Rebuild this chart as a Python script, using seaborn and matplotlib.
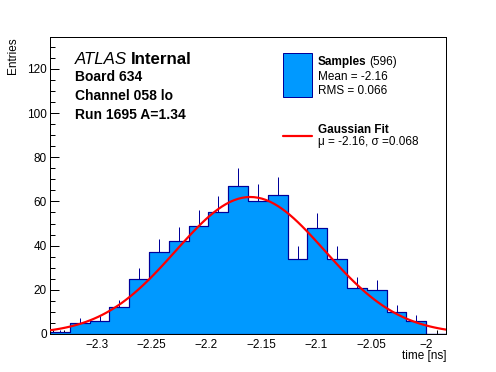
import numpy as np
import pandas as pd
import matplotlib
matplotlib.use("Agg")
import matplotlib.pyplot as plt
import seaborn as sns
from matplotlib.patches import Rectangle
from matplotlib.lines import Line2D
from matplotlib.ticker import MultipleLocator

# ---------------- data ----------------
hist_xmin = -2.3425
hist_xmax = -1.9817
n_bins = 20
counts = [1, 5, 6, 12, 25, 37, 42, 49, 55, 67, 60, 63, 34, 48, 34, 21, 20, 10, 6, 0]
fit_mu = -2.16
fit_sigma = 0.068
fit_amp = 62.0
x_ticks = [-2.3, -2.25, -2.2, -2.15, -2.1, -2.05, -2.0]
x_tick_labels = ["\u22122.3", "\u22122.25", "\u22122.2", "\u22122.15", "\u22122.1", "\u22122.05", "\u22122"]
y_ticks = [0, 20, 40, 60, 80, 100, 120]
y_max = 134.4

edges = np.linspace(hist_xmin, hist_xmax, n_bins + 1)
centers = 0.5 * (edges[:-1] + edges[1:])
counts_arr = np.array(counts, dtype=float)
df = pd.DataFrame({"time": centers, "n": counts_arr})

fx = np.linspace(hist_xmin, hist_xmax, 100)
fy = fit_amp * np.exp(-0.5 * ((fx - fit_mu) / fit_sigma) ** 2)
fit_df = pd.DataFrame({"time": fx, "fit": fy})

# ---------------- style ----------------
sns.set_style("white")
plt.rcParams["font.family"] = ["Liberation Sans", "DejaVu Sans"]
plt.rcParams["axes.unicode_minus"] = True
plt.rcParams["text.color"] = "black"
plt.rcParams["axes.labelcolor"] = "black"
plt.rcParams["xtick.color"] = "black"
plt.rcParams["ytick.color"] = "black"

W, H = 496, 372
fig = plt.figure(figsize=(W / 100, H / 100), dpi=100)
ax = fig.add_axes([50 / W, 1 - 334 / H, 396 / W, 297 / H])

FILL = "#0099ff"
EDGE = "#000099"
px = 72 / 100  # points per pixel

# error bars (lower half hidden behind the filled histogram)
mask = counts_arr > 0
ax.errorbar(centers[mask], counts_arr[mask], yerr=np.sqrt(counts_arr[mask]),
            fmt="none", ecolor=EDGE, elinewidth=1.0 * px, capsize=0, zorder=0.5)

sns.histplot(data=df, x="time", weights="n", bins=[float(e) for e in edges],
             element="step", fill=True, color=FILL, edgecolor=EDGE,
             linewidth=1.2 * px, alpha=1, ax=ax, zorder=1)

sns.lineplot(data=fit_df, x="time", y="fit", color="#ff0000",
             linewidth=2.2 * px, ax=ax, zorder=3)

ax.set_xlim(hist_xmin, hist_xmax)
ax.set_ylim(0, y_max)
ax.set_xlabel("")
ax.set_ylabel("")

ax.set_xticks(x_ticks)
ax.set_xticklabels(x_tick_labels)
ax.set_yticks(y_ticks)
ax.xaxis.set_minor_locator(MultipleLocator(0.01))
ax.yaxis.set_minor_locator(MultipleLocator(5))
ax.tick_params(axis="both", which="both", direction="in", top=False, right=False,
               bottom=True, left=True, colors="black", labelcolor="black",
               width=1.0 * px, labelsize=8.5)
ax.tick_params(axis="both", which="major", length=8.5 * px)
ax.tick_params(axis="both", which="minor", length=4.5 * px)
ax.tick_params(axis="x", which="major", pad=3.5)
ax.tick_params(axis="y", which="major", pad=2.4)
for s in ax.spines.values():
    s.set_visible(True)
    s.set_color("black")
    s.set_linewidth(1.0 * px)

# axis titles
fig.text(13 / W, 1 - 37 / H, "Entries", rotation=90, ha="center", va="top", fontsize=8.5)
fig.text(446 / W, 1 - 356 / H, "time [ns]", ha="right", va="center", fontsize=8.5)

# ATLAS labels
def fx_(x):
    return x / W

def fy_(y):
    return 1 - y / H

t1 = fig.text(fx_(75), fy_(63.5), "ATLAS", fontsize=12.2, style="italic", va="baseline")
fig.canvas.draw()
bb = t1.get_window_extent()
fig.text(fx_(bb.x1 + 4), fy_(63.5), "Internal", fontsize=12.2, weight="bold", va="baseline")
fig.text(fx_(75), fy_(81), "Board 634", fontsize=10, weight="bold", va="baseline")
fig.text(fx_(75), fy_(100), "Channel 058 lo", fontsize=10, weight="bold", va="baseline")
fig.text(fx_(75), fy_(119), "Run 1695 A=1.34", fontsize=10, weight="bold", va="baseline")

# legend (manual, ROOT style)
fig.add_artist(Rectangle((fx_(283), fy_(97)), 29 / W, 44 / H, transform=fig.transFigure,
                         facecolor=FILL, edgecolor=EDGE, linewidth=1.0 * px))
t2 = fig.text(fx_(318), fy_(65.5), "Samples", fontsize=8.5, weight="bold", va="baseline")
fig.canvas.draw()
bb2 = t2.get_window_extent()
fig.text(fx_(bb2.x1 + 3), fy_(65.5), "(596)", fontsize=8.5, va="baseline")
fig.text(fx_(318), fy_(80), "Mean = -2.16", fontsize=8.5, va="baseline")
fig.text(fx_(318), fy_(93.5), "RMS = 0.066", fontsize=8.5, va="baseline")
fig.add_artist(Line2D([fx_(283), fx_(312)], [fy_(136), fy_(136)], transform=fig.transFigure,
                      color="#ff0000", linewidth=2.2 * px))
fig.text(fx_(318), fy_(133), "Gaussian Fit", fontsize=8.5, weight="bold", va="baseline")
fig.text(fx_(318), fy_(145.5), "\u03bc = -2.16, \u03c3 =0.068", fontsize=8.5, va="baseline")

fig.savefig("out.png", dpi=100)
